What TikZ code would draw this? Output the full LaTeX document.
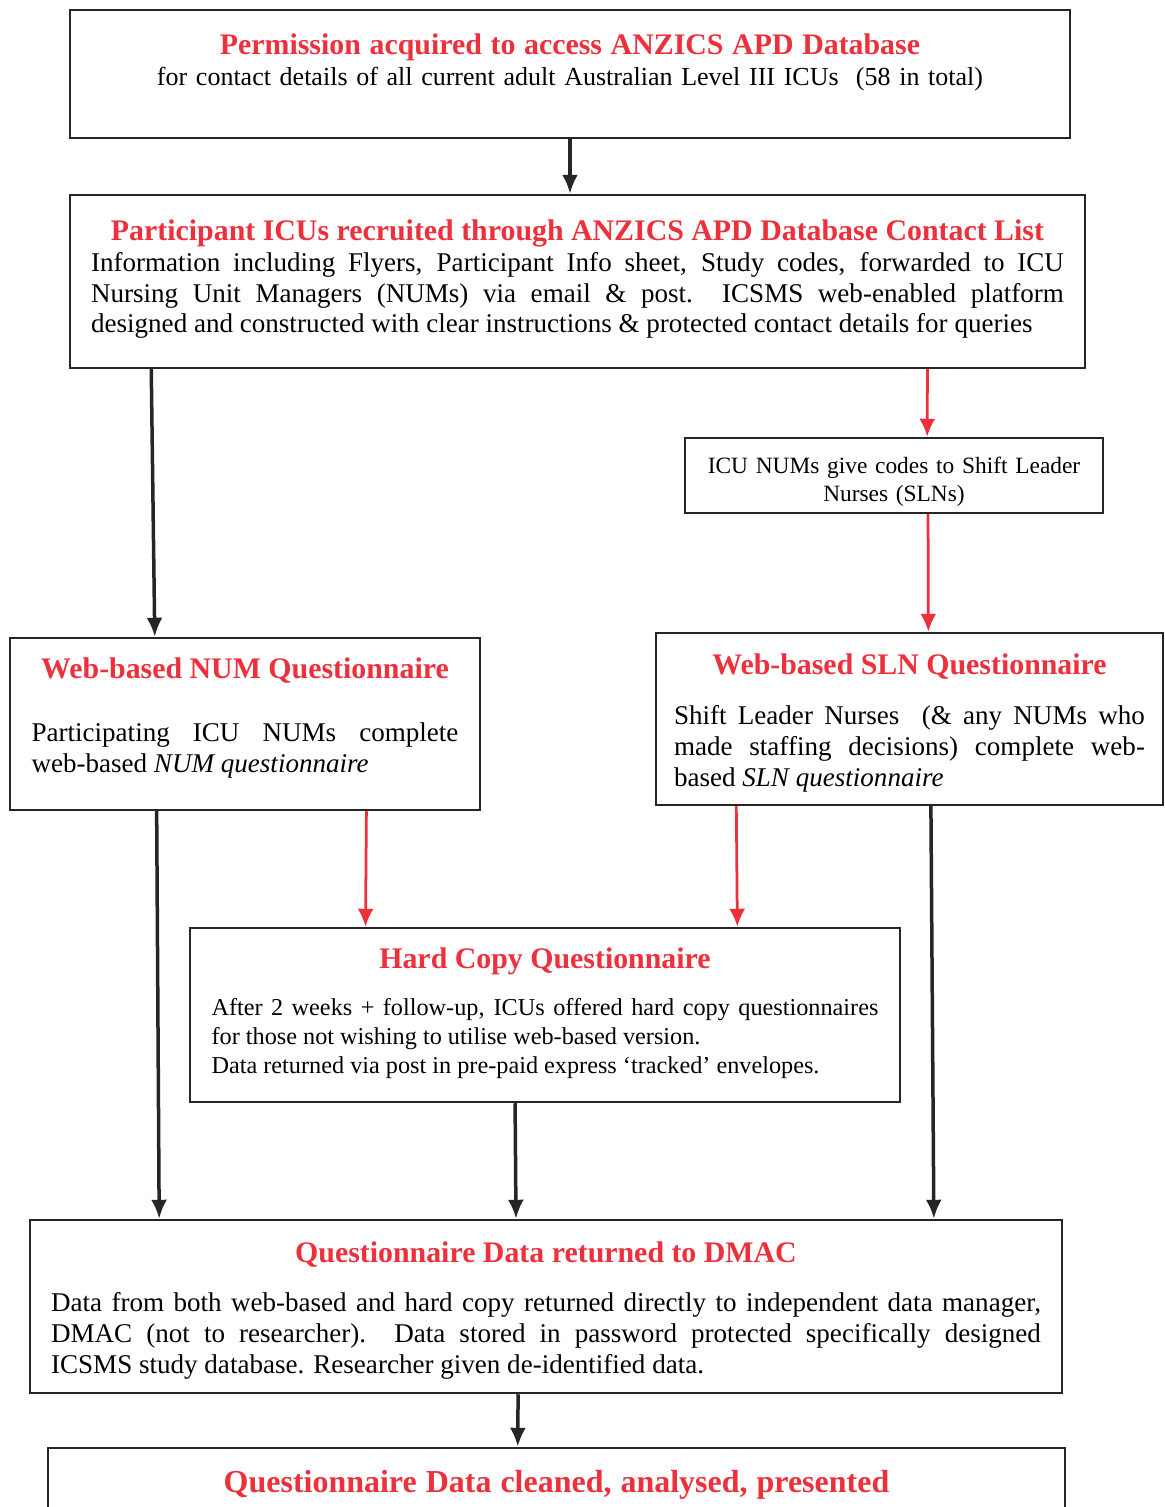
\documentclass[tikz,border=0pt]{standalone}
\usepackage{fontspec}
\setmainfont{Liberation Serif}
\usetikzlibrary{arrows.meta,calc}
\definecolor{ttlred}{RGB}{236,48,60}
\newcommand{\boxtitle}[2][0pt]{{\centering\leavevmode\color{ttlred}\bfseries\fontsize{17}{20}\selectfont\rule{0pt}{#1}#2\par}}

\begin{document}
\begin{tikzpicture}[x=0.02cm,y=-0.02cm,
  box/.style={draw=black!85,line width=0.05cm,inner sep=0pt,font=\fontsize{15.4}{17.6}\selectfont,align=justify},
  blk/.style={draw=black!85,line width=0.07cm,-{Latex[length=0.38cm,width=0.32cm]}},
  redarr/.style={draw=ttlred,fill=ttlred,line width=0.055cm,-{Latex[length=0.36cm,width=0.32cm]}}]
\useasboundingbox (0,0) rectangle (1165,1507);
\clip (0,0) rectangle (1165,1507);

\node[box,minimum width=20cm,minimum height=2.56cm,text width=19cm,align=center,font=\fontsize{14.8}{17.6}\selectfont] (perm) at (570,74)
  {\boxtitle{Permission acquired to access ANZICS APD Database}for contact details of all current adult Australian Level III ICUs\ \ (58 in total)\rule[-16pt]{0pt}{0pt}};
\node[box,minimum width=20.3cm,minimum height=3.46cm,text width=19.46cm] (recruit) at (577.5,281.5)
  {\boxtitle{Participant ICUs recruited through ANZICS APD Database Contact List}Information including Flyers, Participant Info sheet, Study codes, forwarded to ICU\linebreak Nursing Unit Managers (NUMs) via email \& post.\ \ ICSMS web-enabled platform\linebreak designed and constructed with clear instructions \& protected contact details for queries\rule[-6pt]{0pt}{0pt}};
\node[box,minimum width=8.36cm,minimum height=1.5cm,text width=8cm,align=center,font=\fontsize{13.3}{16}\selectfont] (codes) at (894,475.5)
  {\rule{0pt}{16.5pt}ICU NUMs give codes to Shift Leader\\Nurses (SLNs)};
\node[box,minimum width=9.4cm,minimum height=3.44cm,text width=8.54cm] (numq) at (245,724)
  {\boxtitle{Web-based NUM Questionnaire}\vspace{18pt}Participating ICU NUMs complete\linebreak web-based \textit{NUM questionnaire}\rule[-10pt]{0pt}{0pt}};
\node[box,minimum width=10.14cm,minimum height=3.44cm,text width=9.42cm] (slnq) at (909.5,719)
  {\boxtitle[16.5pt]{Web-based SLN Questionnaire}\vspace{11pt}Shift Leader Nurses\ \ (\& any NUMs who\linebreak made staffing decisions) complete web-\linebreak based \textit{SLN questionnaire}};
\node[box,minimum width=14.2cm,minimum height=3.48cm,text width=13.34cm,font=\fontsize{13.8}{16.5}\selectfont] (hardq) at (545,1015)
  {\boxtitle[13pt]{Hard Copy Questionnaire}\vspace{10pt}After 2 weeks + follow-up, ICUs offered hard copy questionnaires\linebreak for those not wishing to utilise web-based version.\\Data returned via post in pre-paid express ‘tracked’ envelopes.\rule[-6pt]{0pt}{0pt}};
\node[box,minimum width=20.64cm,minimum height=3.46cm,text width=19.8cm] (dmac) at (546,1306.5)
  {\boxtitle[16pt]{Questionnaire Data returned to DMAC}\vspace{10.5pt}Data from both web-based and hard copy returned directly to independent data manager,\linebreak DMAC (not to researcher).\ \ Data stored in password protected specifically designed\linebreak ICSMS study database. Researcher given de-identified data.};
\node[box,minimum width=20.34cm,minimum height=1.48cm,text width=19.5cm,align=center] (final) at (556.5,1485)
  {{\centering\leavevmode\color{ttlred}\bfseries\fontsize{18.2}{21}\selectfont Questionnaire Data cleaned, analysed, presented\par}};

\draw[blk] (perm.south) -- (perm.south |- recruit.north);
\draw[blk] ($(recruit.south west)!0.081!(recruit.south east)$) -- ($(numq.north west)!0.309!(numq.north east)$);
\draw[redarr] ($(recruit.south west)!0.844!(recruit.south east)$) -- ($(codes.north west)!0.579!(codes.north east)$);
\draw[redarr] ($(codes.south west)!0.581!(codes.south east)$) -- ($(slnq.north west)!0.537!(slnq.north east)$);
\draw[blk] ($(numq.south west)!0.313!(numq.south east)$) -- ($(dmac.north west)!0.126!(dmac.north east)$);
\draw[redarr] ($(numq.south west)!0.757!(numq.south east)$) -- ($(hardq.north west)!0.248!(hardq.north east)$);
\draw[redarr] ($(slnq.south west)!0.160!(slnq.south east)$) -- ($(hardq.north west)!0.770!(hardq.north east)$);
\draw[blk] ($(slnq.south west)!0.542!(slnq.south east)$) -- ($(dmac.north west)!0.875!(dmac.north east)$);
\draw[blk] ($(hardq.south west)!0.458!(hardq.south east)$) -- ($(dmac.north west)!0.471!(dmac.north east)$);
\draw[blk] ($(dmac.south west)!0.473!(dmac.south east)$) -- ($(final.north west)!0.462!(final.north east)$);
\end{tikzpicture}
\end{document}
